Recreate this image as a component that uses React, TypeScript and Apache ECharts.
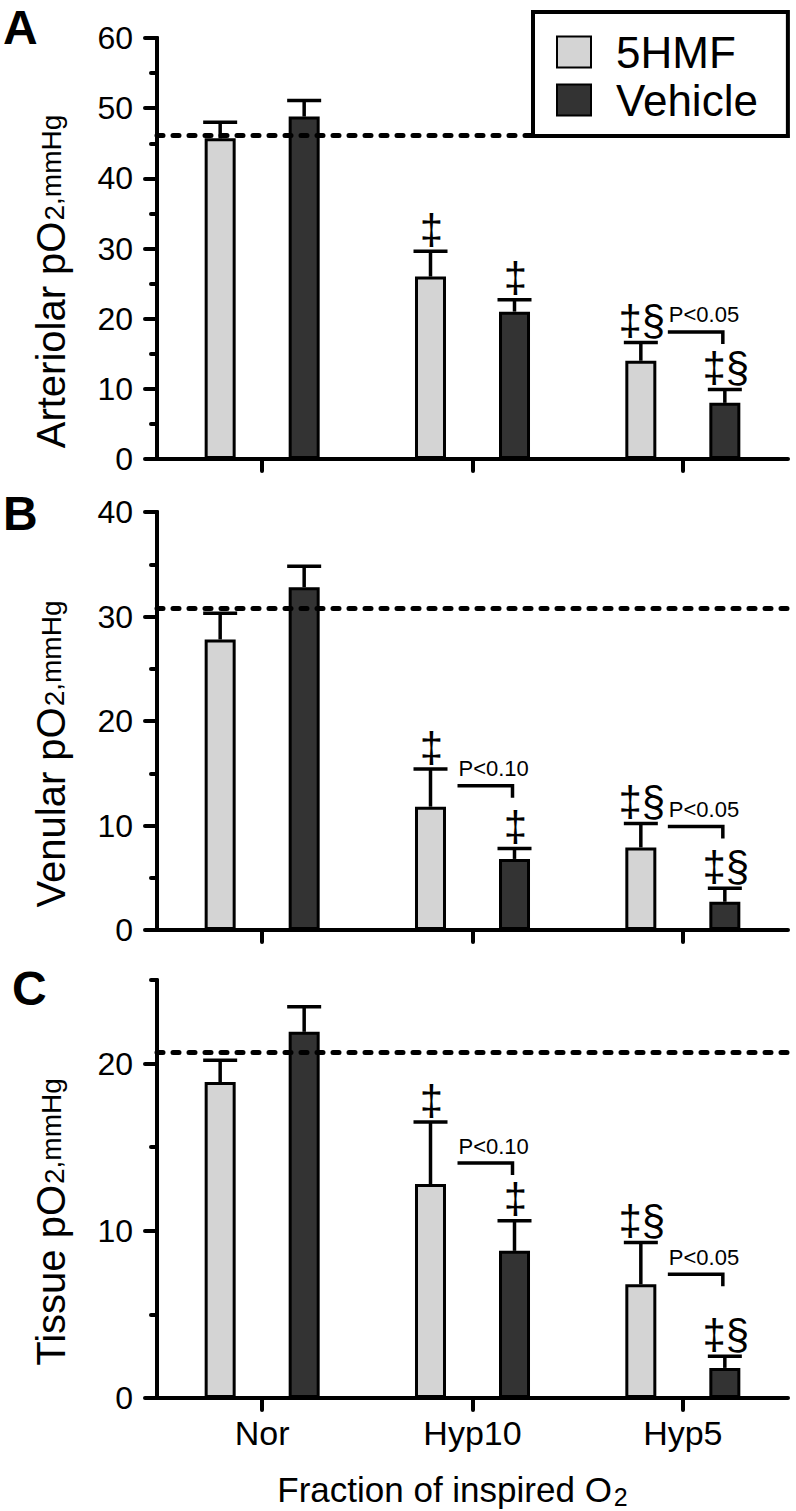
import React, { useEffect, useRef } from "react";
import * as echarts from "echarts";

const categories = ["Nor", "Hyp10", "Hyp5"];

// Panel A – arteriolar pO2 (mmHg)
const hmfA = [45.7, 26, 14];
const hmfSemA = [2.3, 3.6, 2.6];
const vehA = [48.8, 21, 8];
const vehSemA = [2.3, 1.7, 1.9];
const refA = 46.2;
const hmfMarksA = ["", "‡", "‡§"];
const vehMarksA = ["", "‡", "‡§"];
const pLabelsA = ["", "", "P<0.05"];
const pLevelsA = [0, 0, 18.1];

// Panel B – venular pO2 (mmHg)
const hmfB = [27.8, 11.8, 7.9];
const hmfSemB = [2.5, 3.6, 2.3];
const vehB = [32.8, 6.8, 2.7];
const vehSemB = [2.0, 1.0, 1.3];
const refB = 30.8;
const hmfMarksB = ["", "‡", "‡§"];
const vehMarksB = ["", "‡", "‡§"];
const pLabelsB = ["", "P<0.10", "P<0.05"];
const pLevelsB = [0, 13.8, 9.9];

// Panel C – tissue pO2 (mmHg)
const hmfC = [18.9, 12.8, 6.8];
const hmfSemC = [1.3, 3.7, 2.5];
const vehC = [21.9, 8.8, 1.8];
const vehSemC = [1.5, 1.8, 0.7];
const refC = 20.7;
const hmfMarksC = ["", "‡", "‡§"];
const vehMarksC = ["", "‡", "‡§"];
const pLabelsC = ["", "P<0.10", "P<0.05"];
const pLevelsC = [0, 14.05, 7.4];

const yMaxes = [60, 40, 25];
const yMajors = [
  [0, 10, 20, 30, 40, 50, 60],
  [0, 10, 20, 30, 40],
  [0, 10, 20],
];
const yNames = ["Arteriolar pO", "Venular pO", "Tissue pO"];
const panelLetters = ["A", "B", "C"];

const FONT = "Liberation Sans, Arial, Helvetica, sans-serif";
const HMF_COLOR = "#d4d4d4";
const VEH_COLOR = "#333333";
const BAR_OFFSET = 42;

const panels = [
  { hmf: hmfA, hmfSem: hmfSemA, veh: vehA, vehSem: vehSemA, ref: refA, hm: hmfMarksA, vm: vehMarksA, pl: pLabelsA, pv: pLevelsA },
  { hmf: hmfB, hmfSem: hmfSemB, veh: vehB, vehSem: vehSemB, ref: refB, hm: hmfMarksB, vm: vehMarksB, pl: pLabelsB, pv: pLevelsB },
  { hmf: hmfC, hmfSem: hmfSemC, veh: vehC, vehSem: vehSemC, ref: refC, hm: hmfMarksC, vm: vehMarksC, pl: pLabelsC, pv: pLevelsC },
];

const gridTops = [38, 512, 980];
const GRID_H = [421, 418, 418];

export default function App() {
  const ref = useRef<HTMLDivElement>(null);

  useEffect(() => {
    if (!ref.current) return;
    const chart = echarts.init(ref.current, null, { renderer: "svg" });

    const grids: any[] = [];
    const xAxes: any[] = [];
    const yAxes: any[] = [];
    const series: any[] = [];

    panels.forEach((p, k) => {
      grids.push({ left: 157, width: 631, top: gridTops[k], height: GRID_H[k] });
      const isLast = k === 2;
      xAxes.push({
        type: "category",
        gridIndex: k,
        data: categories,
        axisLine: { show: true, lineStyle: { color: "#000", width: 4, cap: "round" } },
        axisTick: { show: true, alignWithLabel: true, length: 12, lineStyle: { color: "#000", width: 4, cap: "round" } },
        axisLabel: { show: isLast, fontSize: 34, color: "#000", fontFamily: FONT, margin: 18 },
        name: isLast ? "{m|Fraction of inspired O}{s|2}" : "",
        nameLocation: "middle",
        nameGap: 72,
        nameTextStyle: {
          color: "#000",
          fontFamily: FONT,
          padding: [0, 40, 0, 0],
          rich: {
            m: { fontSize: 35, fontFamily: FONT, color: "#000" },
            s: { fontSize: 25, fontFamily: FONT, color: "#000", padding: [14, 0, 0, 2] },
          },
        },
      });
    });

    panels.forEach((p, k) => {
      yAxes.push({
        type: "value",
        gridIndex: k,
        position: "left",
        min: 0,
        max: yMaxes[k],
        interval: 10,
        axisLine: { show: true, lineStyle: { color: "#000", width: 4, cap: "round" } },
        axisTick: { show: true, length: 12, customValues: yMajors[k], lineStyle: { color: "#000", width: 4, cap: "round" } },
        axisLabel: {
          show: true,
          customValues: yMajors[k],
          fontSize: 32,
          color: "#000",
          fontFamily: FONT,
          margin: 24,
          formatter: (v: number) => (yMajors[k].indexOf(v) >= 0 ? String(v) : ""),
        },
        splitLine: { show: false },
        name: "{m|" + yNames[k] + "}{s|2}{c|,mmHg}",
        nameLocation: "middle",
        nameGap: 86,
        nameTextStyle: {
          color: "#000",
          fontFamily: FONT,
          padding: [0, 66, 0, 0],
          rich: {
            m: { fontSize: 40, fontFamily: FONT, color: "#000" },
            s: { fontSize: 28, fontFamily: FONT, color: "#000", padding: [6, 0, 0, 1] },
            c: { fontSize: 28, fontFamily: FONT, color: "#000" },
          },
        },
      });
    });
    // minor ticks (every 5)
    panels.forEach((p, k) => {
      yAxes.push({
        type: "value",
        gridIndex: k,
        position: "left",
        offset: 0,
        min: 0,
        max: yMaxes[k],
        interval: 5,
        axisLine: { show: false },
        axisTick: { show: true, length: 6, lineStyle: { color: "#000", width: 4, cap: "round" } },
        axisLabel: { show: false },
        splitLine: { show: false },
      });
    });

    panels.forEach((p, k) => {
      const hmfTop = p.hmf.map((v, i) => v + p.hmfSem[i]);
      const vehTop = p.veh.map((v, i) => v + p.vehSem[i]);
      series.push({
        name: "5HMF",
        type: "bar",
        xAxisIndex: k,
        yAxisIndex: k,
        data: p.hmf,
        barWidth: 31,
        barGap: "171%",
        itemStyle: { color: HMF_COLOR, borderColor: "#000", borderWidth: 3 },
        z: 3,
        markLine: {
          silent: true,
          symbol: ["none", "none"],
          label: { show: false },
          lineStyle: { color: "#000", width: 5, type: [6, 10], cap: "round" },
          data: [{ yAxis: p.ref }],
          z: 5,
        },
      });
      series.push({
        name: "Vehicle",
        type: "bar",
        xAxisIndex: k,
        yAxisIndex: k,
        data: p.veh,
        barWidth: 31,
        barGap: "171%",
        itemStyle: { color: VEH_COLOR, borderColor: "#000", borderWidth: 3 },
        z: 3,
      });
      // error bars
      const errData = categories.map((c, i) => [i, p.hmf[i], hmfTop[i], p.veh[i], vehTop[i]]);
      series.push({
        name: "err" + k,
        type: "custom",
        xAxisIndex: k,
        yAxisIndex: k,
        z: 2,
        silent: true,
        data: errData,
        renderItem: (params: any, api: any) => {
          const i = api.value(0);
          const cx = api.coord([i, 0])[0];
          const children: any[] = [];
          [
            [cx - BAR_OFFSET, api.value(1), api.value(2)],
            [cx + BAR_OFFSET, api.value(3), api.value(4)],
          ].forEach(([x, v, t]) => {
            const yb = api.coord([i, v])[1];
            const yt = api.coord([i, t])[1];
            children.push({ type: "line", shape: { x1: x, y1: yb, x2: x, y2: yt }, style: { stroke: "#000", lineWidth: 3.5 } });
            children.push({ type: "line", shape: { x1: x - 17, y1: yt, x2: x + 17, y2: yt }, style: { stroke: "#000", lineWidth: 3.5 } });
          });
          return { type: "group", children };
        },
      });
      // significance annotations
      const annData = categories.map((c, i) => [i, hmfTop[i], vehTop[i], p.pv[i]]);
      series.push({
        name: "ann" + k,
        type: "custom",
        xAxisIndex: k,
        yAxisIndex: k,
        z: 4,
        silent: true,
        data: annData,
        renderItem: (params: any, api: any) => {
          const i = api.value(0);
          const cx = api.coord([i, 0])[0];
          const hx = cx - BAR_OFFSET;
          const vx = cx + BAR_OFFSET;
          const children: any[] = [];
          const hm = p.hm[i];
          const vm = p.vm[i];
          const markStyle = { fontSize: 42, fontFamily: FONT, fill: "#000", align: "center", verticalAlign: "middle" };
          if (hm) {
            const y = api.coord([i, api.value(1)])[1];
            children.push({ type: "text", x: hx + 1, y: y - 22, style: { ...markStyle, text: hm } });
          }
          if (vm) {
            const y = api.coord([i, api.value(2)])[1];
            children.push({ type: "text", x: vx + 1, y: y - 22, style: { ...markStyle, text: vm } });
          }
          const pl = p.pl[i];
          if (pl) {
            const yb = api.coord([i, api.value(3)])[1];
            const xl = hx + 27;
            const xr = vx - 2;
            children.push({
              type: "polyline",
              shape: { points: [[xl, yb], [xr, yb], [xr, yb + 12]] },
              style: { stroke: "#000", lineWidth: 3.5, fill: null },
            });
            children.push({
              type: "text",
              x: xl + 1,
              y: yb - 17,
              style: { text: pl, fontSize: 22, fontFamily: FONT, fill: "#000", align: "left", verticalAlign: "middle" },
            });
          }
          return { type: "group", children };
        },
      });
    });

    const letterTops = [3, 489, 964];
    const letterLefts = [3, 3, 12];

    chart.setOption({
      animation: false,
      backgroundColor: "#fff",
      grid: grids,
      xAxis: xAxes,
      yAxis: yAxes,
      series,
      legend: {
        data: ["5HMF", "Vehicle"],
        orient: "vertical",
        left: 533,
        top: 12,
        padding: [18, 30, 14, 23],
        itemWidth: 34,
        itemHeight: 31,
        itemGap: 4,
        icon: "rect",
        borderColor: "#000",
        borderWidth: 4,
        borderRadius: 0,
        backgroundColor: "#fff",
        z: 10,
        selectedMode: false,
        textStyle: { fontSize: 44, color: "#000", fontFamily: FONT, padding: [0, 0, 0, 20] },
      },
      graphic: panelLetters.map((t, k) => ({
        type: "text",
        left: letterLefts[k],
        top: letterTops[k],
        style: { text: t, fontSize: 48, fontWeight: "bold", fontFamily: FONT, fill: "#000" },
      })),
    });

    return () => chart.dispose();
  }, []);

  return <div ref={ref} style={{ position: "absolute", left: 0, top: 0, width: 796, height: 1511 }} />;
}
